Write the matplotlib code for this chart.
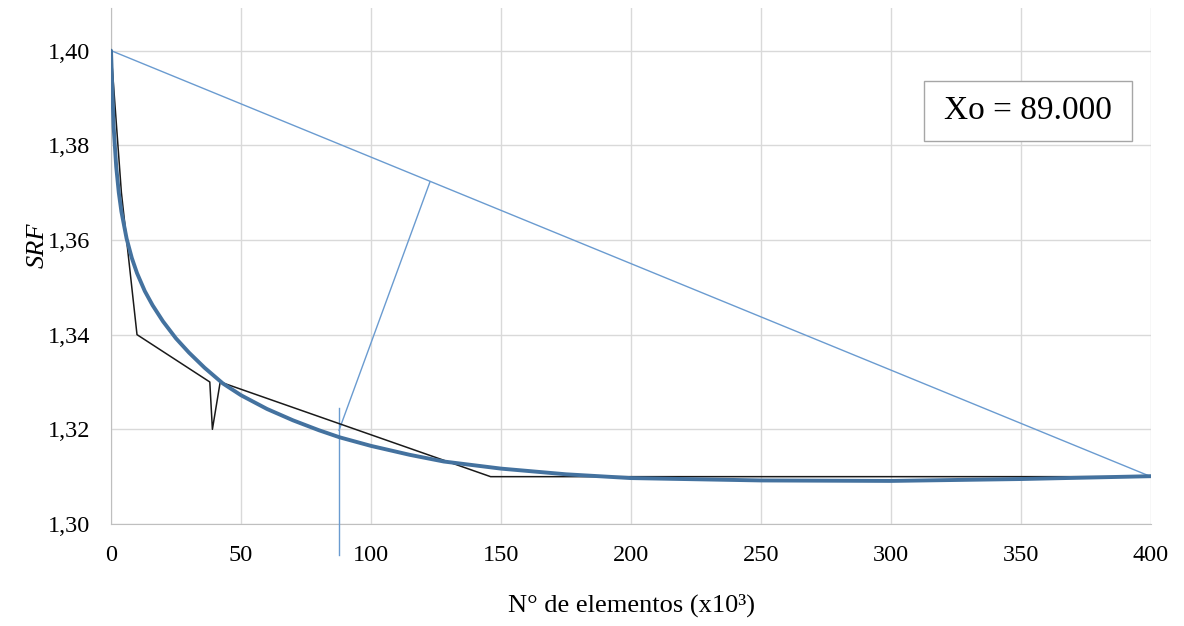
import matplotlib.pyplot as plt
from matplotlib.patches import Rectangle
from matplotlib.ticker import FuncFormatter

# FE results (black): n. of elements (x10^3) vs SRF
elem_x = [0, 4, 10, 38, 39, 42, 146, 400]
srf_y = [1.40, 1.37, 1.34, 1.33, 1.32, 1.33, 1.31, 1.31]

# fitted curve (thick blue)
fit_x = [0, 1, 2, 3, 4, 6, 8, 10, 13, 16, 20, 25, 30, 36, 43, 50, 60, 70,
         80, 88, 100, 115, 128, 150, 175, 200, 250, 300, 350, 400]
fit_y = [1.400, 1.384, 1.3755, 1.370, 1.366, 1.3603, 1.3562, 1.3530, 1.3492,
         1.3462, 1.3428, 1.3392, 1.3362, 1.3330, 1.3297, 1.3272, 1.3243,
         1.3219, 1.3198, 1.3183, 1.3165, 1.3146, 1.3132, 1.3117, 1.3105,
         1.3097, 1.3092, 1.3091, 1.3095, 1.3101]

# chord between the end points and the max-distance construction
chord_x = [0, 400]
chord_y = [1.40, 1.31]
perp_x = [87.7, 122.7]
perp_y = [1.3198, 1.3723]
xo_x = [87.5, 87.5]
xo_y = [1.2934, 1.3245]
xo_label = "Xo = 89.000"

x_ticks = [0, 50, 100, 150, 200, 250, 300, 350, 400]
y_ticks = [1.30, 1.32, 1.34, 1.36, 1.38, 1.40]

plt.rcParams['font.family'] = ['Liberation Serif', 'DejaVu Serif']

fig = plt.figure(figsize=(11.84, 6.26), dpi=100)
ax = fig.add_axes([0.09375, 0.16294, 0.87838, 0.82428])

ax.plot(chord_x, chord_y, color='#6a9bd0', lw=1.0, zorder=3)
ax.plot(perp_x, perp_y, color='#6a9bd0', lw=1.0, zorder=3)
ax.plot(xo_x, xo_y, color='#6a9bd0', lw=1.0, zorder=3, clip_on=False)
ax.plot(elem_x, srf_y, color='#1a1a1a', lw=1.1, zorder=4)
ax.plot(fit_x, fit_y, color='#44729f', lw=2.8, zorder=5,
        solid_capstyle='round', solid_joinstyle='round')

ax.set_xlim(0, 400)
ax.set_ylim(1.30, 1.409)
ax.set_xticks(x_ticks)
ax.set_yticks(y_ticks)
ax.yaxis.set_major_formatter(FuncFormatter(lambda v, p: f"{v:.2f}".replace('.', ',')))
ax.tick_params(length=0, labelsize=17.5, pad=15)

ax.grid(True, color='#d9d9d9', lw=1.0)
ax.set_axisbelow(True)
for s in ['top', 'right']:
    ax.spines[s].set_visible(False)
for s in ['left', 'bottom']:
    ax.spines[s].set_color('#bfbfbf')

ax.set_xlabel("N° de elementos (x10³)", fontsize=19, labelpad=20)
ax.set_ylabel("SRF", fontsize=19, style='italic', labelpad=12)
ax.yaxis.set_label_coords(-0.06, 0.54)

# text box with Xo
ax.add_patch(Rectangle((0.782, 0.742), 0.200, 0.117, transform=ax.transAxes,
                       facecolor='white', edgecolor='#a6a6a6', lw=1.0, zorder=6))
ax.text(0.882, 0.800, xo_label, transform=ax.transAxes, ha='center', va='center',
        fontsize=24, zorder=7)

fig.savefig('out.png', dpi=100)
